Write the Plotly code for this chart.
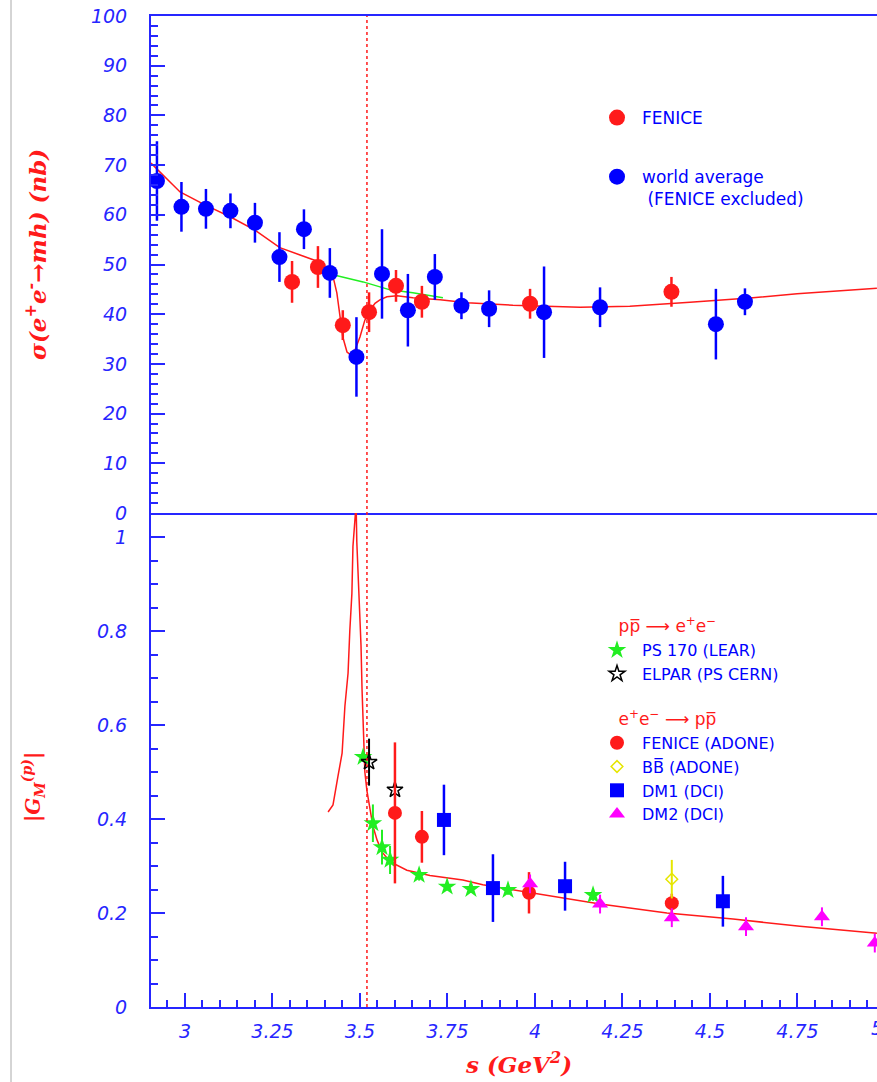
import plotly.graph_objects as go

# ---------------- data: top panel (sigma(e+e- -> mh), nb) ----------------
wa_s = [2.92, 2.99, 3.06, 3.13, 3.20, 3.27, 3.34, 3.414, 3.49, 3.563, 3.637,
        3.714, 3.79, 3.869, 4.026, 4.186, 4.517, 4.60]
wa_sigma = [66.8, 61.6, 61.2, 60.8, 58.4, 51.5, 57.1, 48.3, 31.4, 48.1, 40.8,
            47.5, 41.7, 41.1, 40.4, 41.4, 38.0, 42.5]
wa_err = [8, 5, 4, 3.5, 4, 5, 4, 5, 8, 9, 7.3, 4.6, 2.7, 3.7, 9.2, 4, 7.1, 2.7]

fen_s = [3.306, 3.38, 3.451, 3.526, 3.603, 3.677, 3.986, 4.39]
fen_sigma = [46.5, 49.5, 37.8, 40.4, 45.7, 42.5, 42.1, 44.5]
fen_err = [4.2, 4.2, 3.0, 4.0, 3.2, 3.2, 3.0, 3.0]

fit_top_s = [2.903, 2.986, 3.057, 3.129, 3.20, 3.271, 3.329, 3.38, 3.414, 3.423,
             3.434, 3.443, 3.451, 3.463, 3.474, 3.486, 3.50, 3.514, 3.529, 3.543,
             3.557, 3.577, 3.606, 3.651, 3.729, 3.806, 3.937, 4.129, 4.271, 4.443,
             4.623, 4.749, 4.937, 4.977]
fit_top_v = [70.4, 64.6, 62.0, 59.6, 56.9, 53.4, 51.9, 50.6, 48.6, 47.6,
             44.3, 39.4, 35.4, 32.4, 31.8, 32.8, 35.4, 38.8, 40.8, 42.2,
             42.9, 43.5, 43.7, 43.3, 42.9, 42.3, 41.8, 41.4, 41.6, 42.4,
             43.3, 44.1, 45.1, 45.2]

green_top_s = [3.42, 3.509, 3.586, 3.651, 3.737]
green_top_v = [48.0, 46.5, 44.9, 44.3, 43.3]

# ---------------- data: bottom panel |G_M^(p)| ----------------
ps170_s = [3.509, 3.537, 3.563, 3.586, 3.669, 3.749, 3.817, 3.923, 4.166]
ps170_g = [0.532, 0.391, 0.34, 0.313, 0.281, 0.256, 0.251, 0.249, 0.238]
ps170_err = [0.01, 0.04, 0.037, 0.03, 0.012, 0.008, 0.008, 0.01, 0.012]

elpar_s = [3.526, 3.60]
elpar_g = [0.521, 0.462]
elpar_err = [0.05, 0.0]

fen2_s = [3.60, 3.677, 3.983, 4.391]
fen2_g = [0.413, 0.362, 0.243, 0.221]
fen2_err = [0.15, 0.055, 0.044, 0.02]

bb_s = [4.391]
bb_g = [0.272]
bb_err = [0.041]

dm1_s = [3.74, 3.88, 4.086, 4.537]
dm1_g = [0.398, 0.253, 0.257, 0.225]
dm1_err = [0.075, 0.072, 0.052, 0.054]

dm2_s = [3.986, 4.186, 4.391, 4.603, 4.82, 4.971]
dm2_g = [0.262, 0.219, 0.19, 0.171, 0.192, 0.136]
dm2_err = [0.02, 0.02, 0.02, 0.02, 0.02, 0.02]

fit_bot_s = [3.409, 3.423, 3.437, 3.449, 3.457, 3.466, 3.471, 3.477, 3.48, 3.489,
             3.491, 3.497, 3.503, 3.506, 3.509, 3.514, 3.52, 3.529, 3.537, 3.549,
             3.563, 3.586, 3.634, 3.70, 3.794, 3.851, 3.994, 4.186, 4.377, 4.566,
             4.757, 4.977]
fit_bot_v = [0.415, 0.43, 0.49, 0.54, 0.64, 0.71, 0.80, 0.88, 0.98, 1.07,
             0.99, 0.88, 0.77, 0.675, 0.60, 0.50, 0.46, 0.42, 0.385, 0.355,
             0.33, 0.309, 0.291, 0.28, 0.27, 0.26, 0.243, 0.219, 0.20, 0.187,
             0.172, 0.157]

threshold_s = 3.52

x_tickvals = [3, 3.25, 3.5, 3.75, 4, 4.25, 4.5, 4.75]
x_ticktext = ["3", "3.25", "3.5", "3.75", "4", "4.25", "4.5", "4.75"]
x_last_tick = 5.0
x_last_text = "5"
top_tickvals = [0, 10, 20, 30, 40, 50, 60, 70, 80, 90, 100]
top_ticktext = ["0", "10", "20", "30", "40", "50", "60", "70", "80", "90", "100"]
bot_tickvals = [0, 0.2, 0.4, 0.6, 0.8, 1.0]
bot_ticktext = ["0", "0.2", "0.4", "0.6", "0.8", "1"]

# ---------------- style ----------------
RED = "#ff1a1a"
BLUE = "#0000ff"
AXBLUE = "#2626ff"
GREEN = "#22ee22"
MAG = "#ff00ff"
YEL = "#e6e600"
W, H = 877, 1082
ML, MR, MT, MB = 151, 0, 16, 75
PW, PH = W - ML - MR, H - MT - MB
split = (1007 - 513) / PH

tickfont = dict(family="DejaVu Sans", size=19, color=AXBLUE, style="italic")
legfont_top = dict(family="DejaVu Sans", size=17, color=BLUE)
legfont_bot = dict(family="DejaVu Sans", size=16, color=BLUE)
grptitle_font = dict(family="DejaVu Sans", size=17, color=RED)
NB = "\u00a0"

fig = go.Figure()

# top panel
fig.add_trace(go.Scatter(x=fit_top_s, y=fit_top_v, mode="lines", line=dict(color=RED, width=1.5),
                         xaxis="x", yaxis="y", showlegend=False, hoverinfo="skip"))
fig.add_trace(go.Scatter(x=green_top_s, y=green_top_v, mode="lines", line=dict(color=GREEN, width=1.5),
                         xaxis="x", yaxis="y", showlegend=False, hoverinfo="skip"))
fig.add_trace(go.Scatter(x=fen_s, y=fen_sigma, mode="markers", name="FENICE",
                         marker=dict(color=RED, size=16, symbol="circle"),
                         error_y=dict(type="data", array=fen_err, color=RED, thickness=2.5, width=0),
                         xaxis="x", yaxis="y", legend="legend", legendgroup="g1"))
fig.add_trace(go.Scatter(x=wa_s, y=wa_sigma, mode="markers",
                         name="world average<br>" + NB + "(FENICE excluded)",
                         marker=dict(color=BLUE, size=16, symbol="circle"),
                         error_y=dict(type="data", array=wa_err, color=BLUE, thickness=2.5, width=0),
                         xaxis="x", yaxis="y", legend="legend", legendgroup="g2"))

# bottom panel
fig.add_trace(go.Scatter(x=fit_bot_s, y=fit_bot_v, mode="lines", line=dict(color=RED, width=1.5),
                         xaxis="x2", yaxis="y2", showlegend=False, hoverinfo="skip"))
pp_ee = NB * 4 + "pp\u0305 \u27f6 e<sup>+</sup>e<sup>\u2212</sup>"
ee_pp = NB * 4 + "e<sup>+</sup>e<sup>\u2212</sup> \u27f6 pp\u0305"
fig.add_trace(go.Scatter(x=ps170_s, y=ps170_g, mode="markers", name="PS 170 (LEAR)",
                         marker=dict(color=GREEN, size=14, symbol="star"),
                         error_y=dict(type="data", array=ps170_err, color=GREEN, thickness=2, width=0),
                         xaxis="x2", yaxis="y2", legend="legend2", legendgroup="a",
                         legendgrouptitle=dict(text=pp_ee, font=grptitle_font)))
fig.add_trace(go.Scatter(x=elpar_s, y=elpar_g, mode="markers", name="ELPAR (PS CERN)",
                         marker=dict(color="black", size=12, symbol="star-open", line=dict(width=1.5)),
                         error_y=dict(type="data", array=elpar_err, color="black", thickness=2, width=0),
                         xaxis="x2", yaxis="y2", legend="legend2", legendgroup="a"))
fig.add_trace(go.Scatter(x=fen2_s, y=fen2_g, mode="markers", name="FENICE (ADONE)",
                         marker=dict(color=RED, size=14, symbol="circle"),
                         error_y=dict(type="data", array=fen2_err, color=RED, thickness=2.5, width=0),
                         xaxis="x2", yaxis="y2", legend="legend2", legendgroup="b",
                         legendgrouptitle=dict(text=ee_pp, font=grptitle_font)))
fig.add_trace(go.Scatter(x=bb_s, y=bb_g, mode="markers", name="BB\u0305 (ADONE)",
                         marker=dict(color=YEL, size=9, symbol="diamond-open", line=dict(width=1.5)),
                         error_y=dict(type="data", array=bb_err, color=YEL, thickness=2, width=0),
                         xaxis="x2", yaxis="y2", legend="legend2", legendgroup="b"))
fig.add_trace(go.Scatter(x=dm1_s, y=dm1_g, mode="markers", name="DM1 (DCI)",
                         marker=dict(color=BLUE, size=14, symbol="square"),
                         error_y=dict(type="data", array=dm1_err, color=BLUE, thickness=2.5, width=0),
                         xaxis="x2", yaxis="y2", legend="legend2", legendgroup="b"))
fig.add_trace(go.Scatter(x=dm2_s, y=dm2_g, mode="markers", name="DM2 (DCI)",
                         marker=dict(color=MAG, size=14, symbol="triangle-up"),
                         error_y=dict(type="data", array=dm2_err, color=MAG, thickness=2, width=0),
                         xaxis="x2", yaxis="y2", legend="legend2", legendgroup="b"))

xr = [2.903, 2.903 + PW / 350.0]

common_x = dict(range=xr, showgrid=False, zeroline=False, showline=True, linecolor=AXBLUE, linewidth=2)
fig.update_layout(
    width=W, height=H,
    margin=dict(l=ML, r=MR, t=MT, b=MB, pad=0),
    paper_bgcolor="white", plot_bgcolor="white",
    xaxis=dict(**common_x, anchor="y", mirror=True, ticks="", showticklabels=False, matches="x2"),
    xaxis2=dict(**common_x, anchor="y2", ticks="inside", ticklen=14, tickwidth=1.5, tickcolor=AXBLUE,
                tickvals=x_tickvals, ticktext=x_ticktext, tickfont=tickfont, ticklabelstandoff=6,
                minor=dict(dtick=0.05, tick0=3, ticks="inside", ticklen=7, tickwidth=1.5, tickcolor=AXBLUE)),
    yaxis=dict(domain=[split, 1], range=[0, 100], anchor="x", showgrid=False, zeroline=False,
               showline=True, linecolor=AXBLUE, linewidth=2, ticks="inside", ticklen=14, tickwidth=1.5,
               tickcolor=AXBLUE, tickvals=top_tickvals, ticktext=top_ticktext, tickfont=tickfont,
               ticklabelstandoff=18,
               minor=dict(dtick=2, tick0=0, ticks="inside", ticklen=7, tickwidth=1.5, tickcolor=AXBLUE)),
    yaxis2=dict(domain=[0, split], range=[0, (1007 - 513) / 470.0], anchor="x2", showgrid=False,
                zeroline=False, showline=True, linecolor=AXBLUE, linewidth=2, ticks="inside", ticklen=14,
                tickwidth=1.5, tickcolor=AXBLUE, tickvals=bot_tickvals, ticktext=bot_ticktext,
                tickfont=tickfont, ticklabelstandoff=18,
                minor=dict(dtick=0.05, tick0=0, ticks="inside", ticklen=7, tickwidth=1.5, tickcolor=AXBLUE)),
    legend=dict(x=(592 - ML) / PW, y=(1007 - 100) / PH, xanchor="left", yanchor="top",
                bgcolor="rgba(0,0,0,0)", font=legfont_top, tracegroupgap=34, valign="top",
                traceorder="grouped", itemwidth=40),
    legend2=dict(x=(592 - ML) / PW, y=(1007 - 608) / PH, xanchor="left", yanchor="top",
                 bgcolor="rgba(0,0,0,0)", font=legfont_bot, tracegroupgap=20, traceorder="grouped",
                 itemwidth=40),
    shapes=[
        dict(type="line", xref="x2", yref="paper", x0=threshold_s, x1=threshold_s, y0=0, y1=1,
             line=dict(color=RED, width=1.5, dash="dot")),
        dict(type="line", xref="paper", yref="paper", x0=(11 - ML) / PW, x1=(11 - ML) / PW,
             y0=-MB / PH, y1=(PH + MT) / PH, line=dict(color="#aaaaaa", width=1)),
    ],
    annotations=[
        dict(text="<b><i>\u03c3(e<sup>+</sup>e<sup>-</sup>\u2192mh) (nb)</i></b>", xref="paper", yref="paper",
             x=(36 - ML) / PW, y=(1007 - 255) / PH, textangle=-90, showarrow=False,
             font=dict(family="DejaVu Serif", size=23, color=RED), xanchor="center", yanchor="middle"),
        dict(text="<b><i>|G<sub>M</sub><sup>(p)</sup>|</i></b>", xref="paper", yref="paper",
             x=(33 - ML) / PW, y=(1007 - 787) / PH, textangle=-90, showarrow=False,
             font=dict(family="DejaVu Serif", size=20, color=RED), xanchor="center", yanchor="middle"),
        dict(text="<b><i>s (GeV<sup>2</sup>)</i></b>", xref="paper", yref="paper",
             x=(518 - ML) / PW, y=(1007 - 1063) / PH, showarrow=False,
             font=dict(family="DejaVu Serif", size=23, color=RED), xanchor="center", yanchor="middle"),
        dict(text=x_last_text, xref="paper", yref="paper",
             x=(x_last_tick - xr[0]) / (xr[1] - xr[0]), y=0, yanchor="top", yshift=-8,
             showarrow=False, font=tickfont),
    ],
)

fig.write_html("out.html")
